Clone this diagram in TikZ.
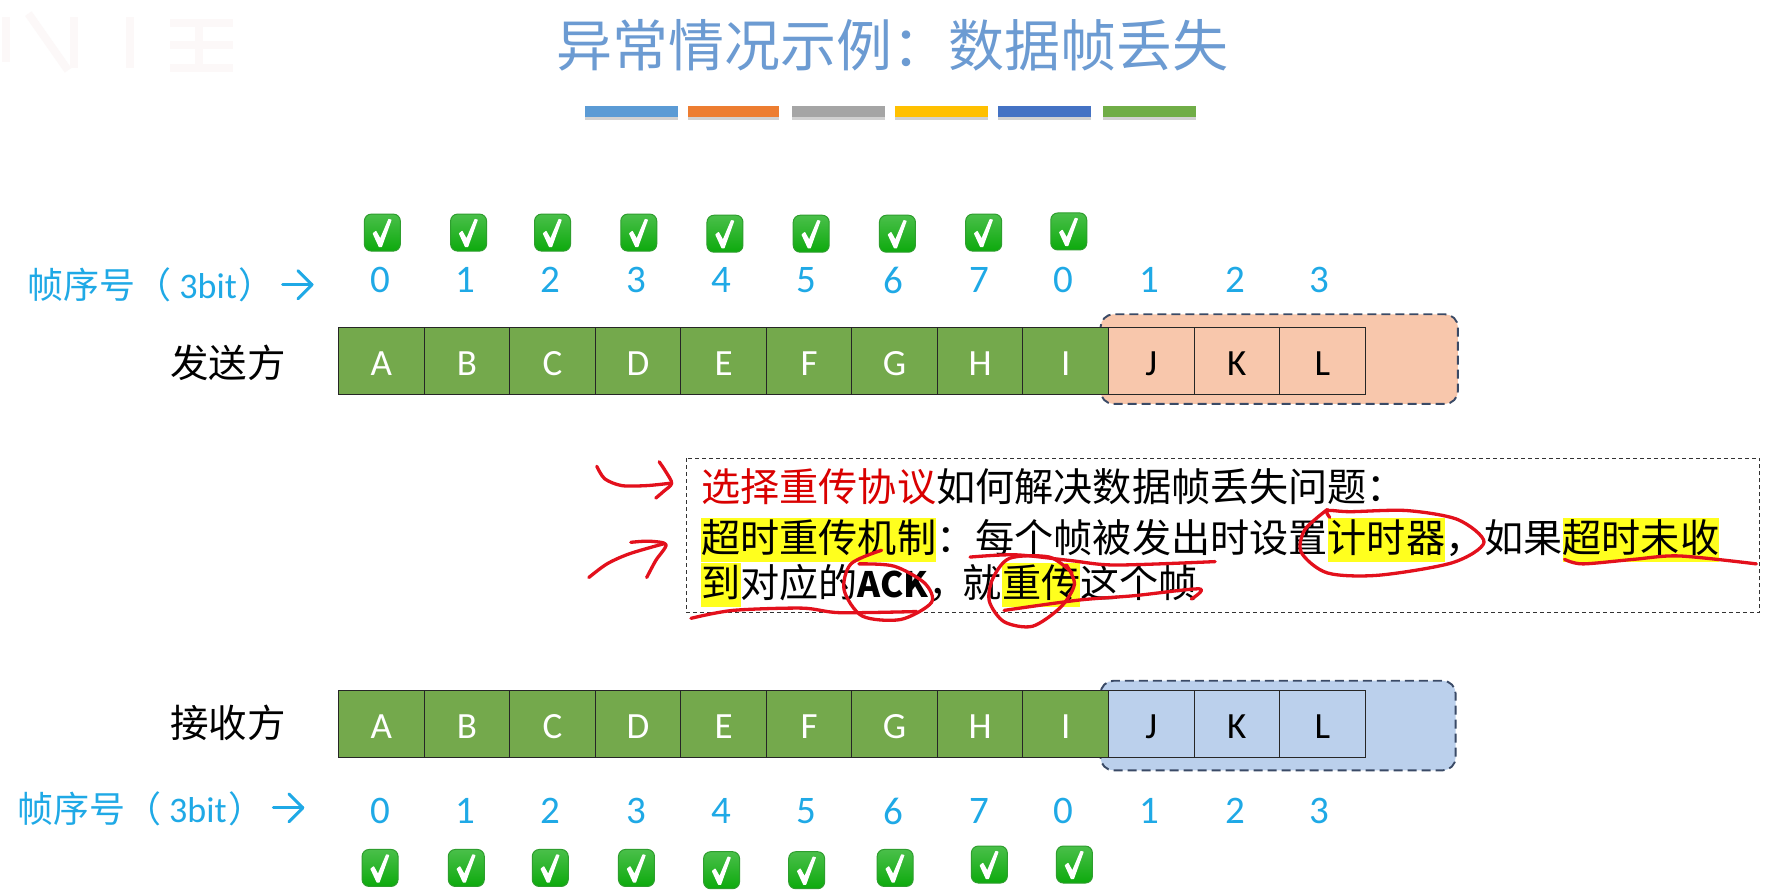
\documentclass[tikz,border=0pt]{standalone}
\usepackage{fontspec}
\setmainfont{Noto Sans CJK SC}
\newfontfamily\latinf{Carlito}
\definecolor{titleblue}{HTML}{6C9BD2}
\definecolor{seqblue}{HTML}{1FA9E6}
\definecolor{cellgreen}{HTML}{74A94C}
\definecolor{peach}{HTML}{F8C7AC}
\definecolor{paleblue}{HTML}{BBD0EC}
\definecolor{boxedge}{HTML}{3A4A66}
\definecolor{inkred}{HTML}{E3101C}
\definecolor{okgreen}{HTML}{0DAA0D}
\definecolor{okedge}{HTML}{2E9E2E}
\definecolor{hl}{HTML}{FFFF1E}
\definecolor{wmark}{HTML}{FCF8F8}
\newcommand{\hlt}[1]{{\setlength{\fboxsep}{0pt}\colorbox{hl}{\rule[-9pt]{0pt}{44pt}#1}}}
\newcommand{\lowcap}[1]{\raisebox{-14.5pt}[0pt][0pt]{#1}}
\tikzset{
  x=1.13457pt,y=-1.13457pt,
  cellbox/.style={draw=black!85,line width=1pt,minimum width=85.55pt,minimum height=67.5pt,inner sep=0pt,anchor=north west,font=\latinf\fontsize{37}{37}\selectfont},
  greencell/.style={cellbox,fill=cellgreen,text=white},
  plaincell/.style={cellbox,text=black},
  seqnum/.style={font=\latinf\fontsize{39}{39}\selectfont,text=seqblue,inner sep=0pt},
  seqlabel/.style={font=\fontsize{36}{36}\selectfont,text=seqblue,inner sep=0pt,anchor=west},
  seqarrow/.style={draw=seqblue,line width=3pt,line cap=round,line join=round},
  side/.style={font=\fontsize{38.5}{38.5}\selectfont,text=black,inner sep=0pt},
  window/.style={draw=boxedge,line width=1.9pt,dash pattern=on 9pt off 5pt,rounded corners=13pt},
  ink/.style={draw=inkred,line width=3.3pt,line cap=round,line join=round},
  okbg/.style={draw=okedge,line width=1pt,rounded corners=7pt,minimum width=36pt,minimum height=37pt,inner sep=0pt,top color=okgreen!75!white,bottom color=okgreen},
  okmark/.pic={\draw[white,line width=1.3pt,fill=white,line join=round]
     (-9pt,-1pt)--(-6.5pt,1pt)--(-2pt,-7pt)--(6.5pt,13pt)--(8.5pt,12.5pt)--(-1pt,-14pt)--(-3pt,-14pt)--cycle;},
}
\begin{document}
\begin{tikzpicture}
\useasboundingbox (0,0) rectangle (1568,786);
\fill[white] (0,0) rectangle (1568,786);
% faint watermark
\foreach \a/\b/\c/\d in {5/15/5/55,25/12/60/62,65/15/65/60,115/15/115/60,150/20/205/20,150/40/205/40,150/60/205/60,175/20/175/60}
  \draw[draw=wmark,line width=8pt] (\a,\b)--(\c,\d);
% title
\node[font=\fontsize{56}{56}\selectfont,text=titleblue,inner sep=0pt] (title) at (787,40) {异常情况示例：数据帧丢失};
% colour bars
\foreach \n/\xa/\xb/\col in {1/516/598/5B9BD5,2/606/687/ED7D31,3/698/780/A5A5A5,4/789/871/FFC000,5/880/962/4472C4,6/972/1054/70AD47}{
  \definecolor{barc}{HTML}{\col}
  \fill[black!18] (\xa,96)rectangle(\xb,106);
  \fill[barc] (\xa,93)rectangle(\xb,103);
}
% windows
\draw[window,fill=peach] (970,277) rectangle (1285,356);
\draw[window,fill=paleblue] (970,600) rectangle (1283,679);
% cells
\foreach \nm/\i/\t in {a/0/A,b/1/B,c/2/C,d/3/D,e/4/E,f/5/F,g/6/G,h/7/H,i/8/I}{
  \node[greencell] (s\nm) at ({298+75.4*\i},288) {\lowcap{\t}};
  \node[greencell] (r\nm) at ({298+75.4*\i},608) {\lowcap{\t}};
}
\foreach \nm/\i/\t in {j/9/J,k/10/K,l/11/L}{
  \node[plaincell] (s\nm) at ({298+75.4*\i},288) {\lowcap{\t}};
  \node[plaincell] (r\nm) at ({298+75.4*\i},608) {\lowcap{\t}};
}
% sequence numbers
\foreach \i/\px/\t in {0/335/0,1/410/1,2/485/2,3/561/3,4/636/4,5/711/5,6/787/6,7/863/7,8/937/0,9/1013/1,10/1089/2,11/1163/3}{
  \node[seqnum] (tn\i) at (\px,247) {\t};
  \node[seqnum] (bn\i) at (\px,715) {\t};
}
% check boxes
\foreach \i/\px/\py in {0/337/205,1/413/205,2/487/205,3/563/205,4/639/206,5/715/206,6/791/206,7/867/205,8/942/204,
   10/335/765,11/411/765,12/485/765,13/561/765,14/636/767,15/711/767,16/789/765,17/872/762,18/947/762}{
  \node[okbg] (ok\i) at (\px,\py) {};
  \pic at (ok\i.center) {okmark};
}
% labels
\node[seqlabel] (tl) at (24,251) {帧序号（\hspace{8pt}{\latinf 3bit}\hspace{2pt}）};
\coordinate (tlb) at (249,251);
\coordinate (tla) at (275,251);
\draw[seqarrow] (tlb) -- (tla);
\draw[seqarrow] ([xshift=-14pt,yshift=14pt]tla) -- (tla) -- ([xshift=-14pt,yshift=-14pt]tla);
\node[seqlabel] (bl) at (15,713) {帧序号（\hspace{8pt}{\latinf 3bit}\hspace{2pt}）};
\coordinate (blb) at (241,712);
\coordinate (bla) at (267,712);
\draw[seqarrow] (blb) -- (bla);
\draw[seqarrow] ([xshift=-14pt,yshift=14pt]bla) -- (bla) -- ([xshift=-14pt,yshift=-14pt]bla);
\node[side] (snd) at (201,320) {发送方};
\node[side] (rcv) at (201,637) {接收方};
% explanation box
\draw[draw=black!80,line width=1.3pt,dash pattern=on 4pt off 3pt] (605,404) rectangle (1551,540);
\node[anchor=north west,inner sep=0pt,align=left,font=\fontsize{39.15}{45}\selectfont] (txt) at (618,413)
 {\textcolor{red!85!black}{选择重传协议}如何解决数据帧丢失问题：\\[6pt]
  \hlt{超时重传机制}：每个帧被发出时设置\hlt{计时器}，如果\hlt{超时未收}\\
  \hlt{到}对应的{\fontsize{35}{45}\selectfont\bfseries ACK}，\hspace{-5pt}就\hlt{重传}这个帧};
% red pen marks
\draw[ink] plot[smooth] coordinates {(526,411)(533,422)(548,428)(570,428)(590,426)};
\draw[ink] plot[smooth] coordinates {(581,407)(587,416)(592,426)(585,433)(578,439)};
\draw[ink] plot[smooth] coordinates {(519,509)(535,497)(555,488)(586,479)};
\draw[ink] plot[smooth] coordinates {(556,478)(572,477)(587,480)(578,494)(570,509)};
\draw[ink] plot[smooth] coordinates {(855,491)(895,489)(943,494)(983,498)(1071,495)};
\draw[ink] plot[smooth] coordinates {(1172,456)(1170,450)(1190,451)(1240,450)(1285,458)(1308,478)(1280,496)(1215,507)(1170,505)(1147,487)(1150,467)(1170,449)};
\draw[ink] plot[smooth] coordinates {(1379,493)(1395,497)(1440,493)(1480,490)(1548,497)};
\draw[ink] plot[smooth] coordinates {(777,485)(750,497)(744,520)(760,543)(794,546)(821,531)(815,514)(788,499)(757,497)};
\draw[ink] plot[smooth] coordinates {(609,545)(646,538)(707,536)(740,540)(808,539)};
\draw[ink] plot[smooth] coordinates {(945,505)(925,491)(890,492)(875,510)(872,530)(885,548)(910,552)(935,535)(947,515)(940,498)};
\draw[ink] plot[smooth] coordinates {(885,538)(950,529)(1000,525)(1057,519)(1050,528)};
\end{tikzpicture}
\end{document}
